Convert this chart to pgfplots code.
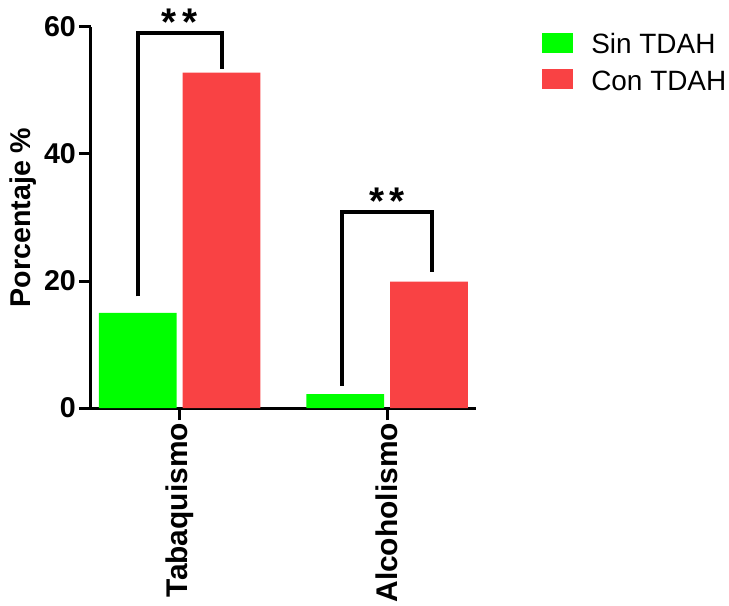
\documentclass[border=0pt]{standalone}
\usepackage{pgfplots}
\pgfplotsset{compat=1.18}
\usepackage{fontspec}
\setmainfont{Liberation Sans}
\definecolor{cgreen}{HTML}{00FF00}
\definecolor{cred}{HTML}{F94244}
\newcommand{\bigf}{\fontsize{21}{25}\selectfont}
\begin{document}
\begin{tikzpicture}
\begin{axis}[
  scale only axis, width=289.5pt, height=286.5pt,
  xmin=-0.428, xmax=1.428, ymin=0, ymax=60,
  axis lines=left,
  axis line style={-, line width=2.25pt},
  xtick={0,1}, xticklabels={Tabaquismo,Alcoholismo},
  ytick={0,20,40,60},
  tick style={line width=2.25pt, black},
  major tick length=9pt,
  tick align=outside,
  x tick label style={rotate=90, anchor=east, font=\fontsize{22.5}{26}\selectfont\bfseries, inner sep=2pt},
  y tick label style={font=\fontsize{21.5}{25}\selectfont\bfseries, inner sep=2pt},
  /pgf/number format/assume math mode=true,
  ylabel={Porcentaje \%},
  ylabel style={font=\fontsize{21.5}{25}\selectfont\bfseries},
  clip=false,
  legend style={at={(rel axis cs:1.171,0.99)}, anchor=north west, draw=none, fill=none,
    font=\bigf, row sep=7pt, inner sep=0pt,
    /tikz/every odd column/.append style={column sep=12pt}},
  legend cell align=left,
]
\addplot[ybar, bar width=58.5pt, bar shift=-31.5pt, fill=cgreen, draw=none,
  legend image code/.code={\fill[cgreen] (0pt,-6pt) rectangle (23pt,9pt);}]
  coordinates {(0,15) (1,2.2)};
\addlegendentry{Sin TDAH}
\addplot[ybar, bar width=58.5pt, bar shift=31.5pt, fill=cred, draw=none,
  legend image code/.code={\fill[cred] (0pt,-6pt) rectangle (23pt,9pt);}]
  coordinates {(0,52.8) (1,19.9)};
\addlegendentry{Con TDAH}
\draw[line width=3pt, line cap=butt, line join=miter] (axis cs:-0.2,17.6) -- (axis cs:-0.2,59) -- (axis cs:0.205,59) -- (axis cs:0.205,53.3);
\node[font=\fontsize{29}{32}\selectfont\bfseries] at (axis cs:0.0,60.8) {*\kern4pt*};
\draw[line width=3pt, line cap=butt, line join=miter] (axis cs:0.785,3.5) -- (axis cs:0.785,30.8) -- (axis cs:1.215,30.8) -- (axis cs:1.215,21.4);
\node[font=\fontsize{29}{32}\selectfont\bfseries] at (axis cs:1.0,32.6) {*\kern4pt*};
\path (axis cs:-0.8654,64.24) rectangle (axis cs:2.639,-30.63);
\end{axis}
\end{tikzpicture}
\end{document}
